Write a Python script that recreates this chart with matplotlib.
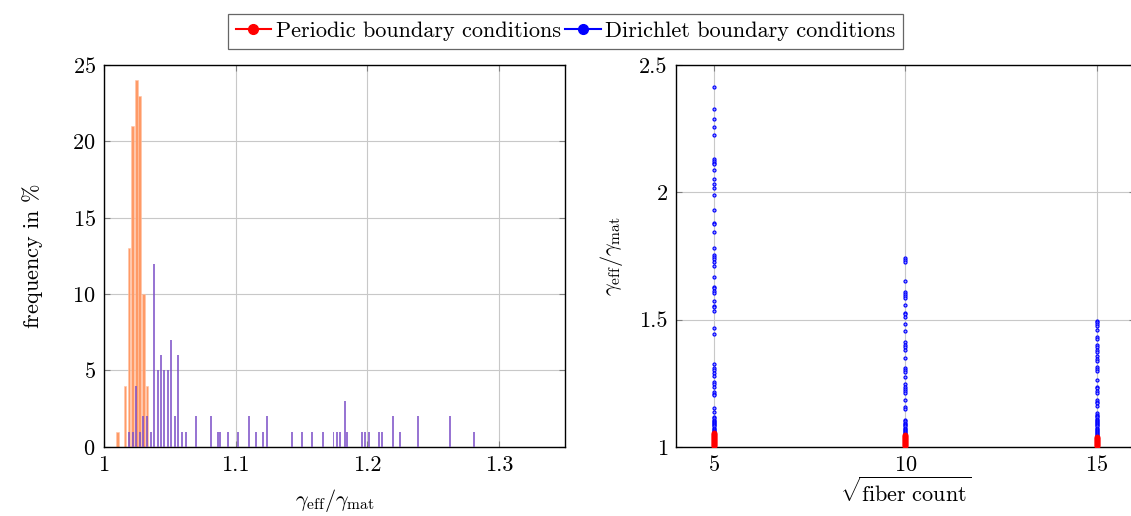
import matplotlib.pyplot as plt
from matplotlib.lines import Line2D
import numpy as np

plt.rcParams['font.family'] = 'cmr10'
plt.rcParams['mathtext.fontset'] = 'cm'
plt.rcParams['axes.formatter.use_mathtext'] = True

# histogram of gamma_eff / gamma_mat (bin centre, frequency in %)
periodic_bins = [1.0101, 1.0159, 1.0189, 1.0214, 1.0245, 1.0270, 1.0298, 1.0326]
periodic_freq = [1, 4, 13, 21, 24, 23, 10, 4]

dirichlet_bins = [1.0189, 1.0220, 1.0245, 1.0270, 1.0293, 1.0323, 1.0354, 1.0379,
                  1.0407, 1.0432, 1.0457, 1.0483, 1.0511, 1.0536, 1.0564, 1.0591,
                  1.0619, 1.0697, 1.0811, 1.0864, 1.0884, 1.0939, 1.1020, 1.1098,
                  1.1152, 1.1205, 1.1235, 1.1424, 1.1500, 1.1581, 1.1659, 1.1742,
                  1.1770, 1.1795, 1.1826, 1.1848, 1.1955, 1.1980, 1.2008, 1.2089,
                  1.2111, 1.2195, 1.2250, 1.2386, 1.2627, 1.2811]
dirichlet_freq = [1, 1, 4, 1, 2, 2, 1, 12, 5, 6, 5, 5, 7, 2, 6, 1,
                  1, 2, 2, 1, 1, 1, 1, 2, 1, 1, 2, 1, 1, 1, 1, 1,
                  1, 1, 3, 1, 1, 1, 1, 1, 1, 2, 1, 2, 2, 1]

# gamma ratio against sqrt(fiber count)
fibers = [5, 10, 15]
dirichlet_pts = {
    5: [2.412, 2.326, 2.289, 2.256, 2.224, 2.131, 2.124, 2.116, 2.110, 2.089,
        2.052, 2.034, 2.017, 1.988, 1.929, 1.878, 1.874, 1.845, 1.782, 1.754,
        1.747, 1.737, 1.728, 1.710, 1.666, 1.629, 1.623, 1.613, 1.604, 1.573,
        1.554, 1.548, 1.534, 1.465, 1.443, 1.325, 1.309, 1.300, 1.289, 1.280,
        1.254, 1.245, 1.237, 1.215, 1.207, 1.203, 1.154, 1.137, 1.119, 1.112,
        1.106, 1.101, 1.097, 1.092, 1.088, 1.084, 1.080, 1.076, 1.072, 1.068,
        1.064, 1.060, 1.057],
    10: [1.741, 1.734, 1.726, 1.652, 1.609, 1.602, 1.594, 1.586, 1.558, 1.526,
         1.520, 1.512, 1.484, 1.455, 1.410, 1.402, 1.394, 1.381, 1.349, 1.309,
         1.302, 1.293, 1.274, 1.246, 1.237, 1.227, 1.219, 1.211, 1.183, 1.156,
         1.148, 1.106, 1.100, 1.095, 1.090, 1.085, 1.080, 1.075, 1.070, 1.066,
         1.062, 1.058, 1.054, 1.050],
    15: [1.496, 1.490, 1.483, 1.475, 1.459, 1.431, 1.423, 1.400, 1.391, 1.381,
         1.372, 1.357, 1.344, 1.339, 1.313, 1.305, 1.297, 1.263, 1.237, 1.230,
         1.221, 1.213, 1.185, 1.178, 1.172, 1.161, 1.132, 1.126, 1.121, 1.116,
         1.111, 1.106, 1.101, 1.096, 1.092, 1.088, 1.084, 1.080, 1.076, 1.072,
         1.068, 1.064, 1.060, 1.056, 1.052, 1.048, 1.044],
}
periodic_pts = {
    5: [1.054, 1.050, 1.046, 1.042, 1.038, 1.034, 1.030, 1.026, 1.022, 1.018,
        1.014, 1.010, 1.006, 1.003],
    10: [1.047, 1.043, 1.039, 1.035, 1.031, 1.027, 1.023, 1.019, 1.015, 1.011,
         1.007, 1.003],
    15: [1.040, 1.036, 1.032, 1.028, 1.024, 1.020, 1.016, 1.012, 1.008, 1.005],
}

fs = 16
fig = plt.figure(figsize=(11.31, 5.16), dpi=100)
ax1 = fig.add_axes([0.092, 0.134, 0.4076, 0.740])
ax2 = fig.add_axes([0.5977, 0.134, 0.4058, 0.740])

for ax in (ax1, ax2):
    ax.grid(True, color='#c8c8c8', linewidth=0.8)
    ax.set_axisbelow(True)
    ax.tick_params(direction='in', top=True, right=True, length=4,
                   color='#808080', labelsize=fs, pad=6)
    for s in ax.spines.values():
        s.set_linewidth(1.0)

# left: histograms
ax1.bar(periodic_bins, periodic_freq, width=0.0021, color='#ff9a66',
        edgecolor='#ffc4a6', linewidth=0.4, zorder=2)
ax1.bar(dirichlet_bins, dirichlet_freq, width=0.0015, color='#7e52c8',
        alpha=0.8, linewidth=0, zorder=3)
ax1.set_xlim(1.0, 1.35)
ax1.set_ylim(0, 25)
ax1.set_xticks([1.0, 1.1, 1.2, 1.3])
ax1.set_xticklabels(['1', '1.1', '1.2', '1.3'])
ax1.set_yticks([0, 5, 10, 15, 20, 25])
ax1.set_xlabel(r'$\gamma_{\mathrm{eff}}/\gamma_{\mathrm{mat}}$', fontsize=fs, labelpad=9)
ax1.set_ylabel(r'frequency in $\%$', fontsize=fs, labelpad=20)

# right: scatter per fiber count
for f in fibers:
    ax2.plot([f] * len(dirichlet_pts[f]), dirichlet_pts[f], linestyle='none',
             marker='o', ms=2.2, mfc='#9a9aff', mec='blue', mew=0.8, zorder=3)
    ax2.plot([f] * len(periodic_pts[f]), periodic_pts[f], linestyle='none',
             marker='o', ms=3.4, mfc='red', mec='red', mew=0.8, zorder=4)
ax2.set_xlim(4, 16)
ax2.set_ylim(1, 2.5)
ax2.set_xticks([5, 10, 15])
ax2.set_yticks([1, 1.5, 2, 2.5])
ax2.set_yticklabels(['1', '1.5', '2', '2.5'])
ax2.set_xlabel(r'$\sqrt{\mathrm{fiber\ count}}$', fontsize=fs, labelpad=1)
ax2.set_ylabel(r'$\gamma_{\mathrm{eff}}/\gamma_{\mathrm{mat}}$', fontsize=fs, labelpad=10)

handles = [
    Line2D([], [], color='red', marker='o', ms=7, lw=1.5),
    Line2D([], [], color='blue', marker='o', ms=7, lw=1.5),
]
leg = fig.legend(handles, ['Periodic boundary conditions', 'Dirichlet boundary conditions'],
                 loc='upper center', bbox_to_anchor=(0.5, 0.995), ncol=2,
                 fontsize=fs, frameon=True, fancybox=False, edgecolor='#404040',
                 handlelength=1.6, handletextpad=0.2, columnspacing=0.2,
                 borderpad=0.35)
leg.get_frame().set_linewidth(0.9)

fig.savefig('out.png', dpi=100)
